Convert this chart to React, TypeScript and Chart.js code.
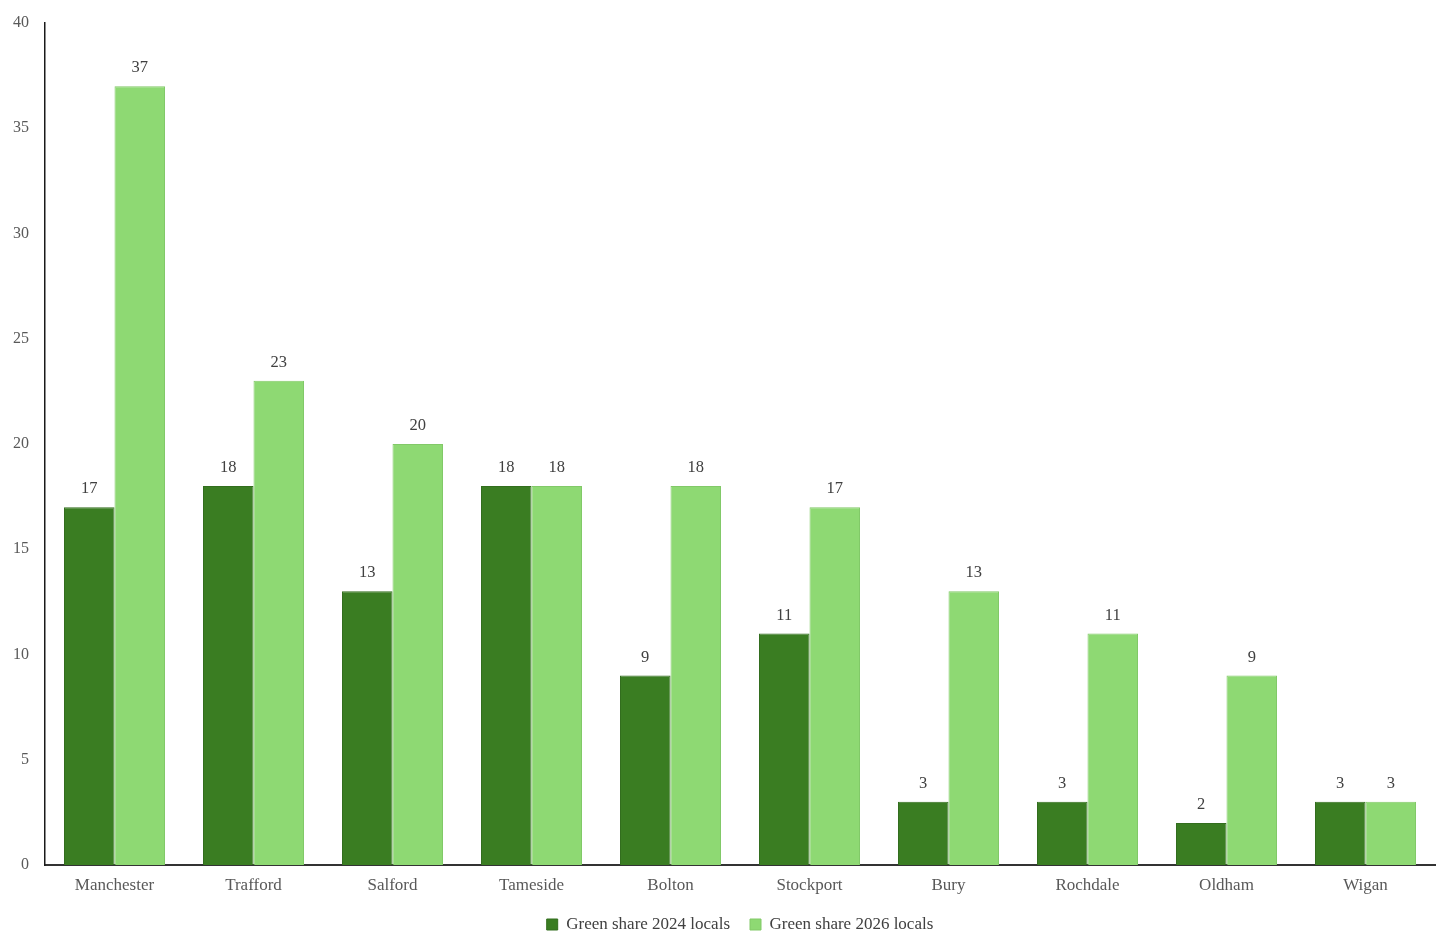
import { useEffect, useRef } from "react";
import { Chart, registerables } from "chart.js";

Chart.register(...registerables);

const councils = [
  "Manchester",
  "Trafford",
  "Salford",
  "Tameside",
  "Bolton",
  "Stockport",
  "Bury",
  "Rochdale",
  "Oldham",
  "Wigan",
];
const share2024 = [17, 18, 13, 18, 9, 11, 3, 3, 2, 3];
const share2026 = [37, 23, 20, 18, 18, 17, 13, 11, 9, 3];

const FONT = "'Liberation Serif', 'DejaVu Serif', serif";

const valueLabels = {
  id: "valueLabels",
  afterDatasetsDraw(chart: Chart) {
    const ctx = chart.ctx;
    ctx.save();
    ctx.font = `16.5px ${FONT}`;
    ctx.fillStyle = "#404040";
    ctx.textAlign = "center";
    ctx.textBaseline = "bottom";
    chart.data.datasets.forEach((ds, i) => {
      chart.getDatasetMeta(i).data.forEach((bar: any, j) => {
        ctx.fillText(String(ds.data[j]), bar.x, bar.y - 10);
      });
    });
    ctx.restore();
  },
};

export default function App() {
  const canvasRef = useRef<HTMLCanvasElement | null>(null);
  const chartRef = useRef<Chart | null>(null);

  useEffect(() => {
    if (!canvasRef.current) return;
    if (chartRef.current) chartRef.current.destroy();
    chartRef.current = new Chart(canvasRef.current, {
      type: "bar",
      data: {
        labels: councils,
        datasets: [
          {
            label: "Green share 2024 locals",
            data: share2024,
            backgroundColor: "#3a7d22",
            borderColor: "#336e1e",
            borderWidth: 1,
          },
          {
            label: "Green share 2026 locals",
            data: share2026,
            backgroundColor: "#8ed973",
            borderColor: "#82c968",
            borderWidth: 1,
          },
        ],
      },
      options: {
        animation: false,
        responsive: true,
        maintainAspectRatio: false,
        layout: { padding: { top: 15, right: 13, bottom: 1, left: 0 } },
        datasets: {
          bar: { categoryPercentage: 0.727, barPercentage: 1 },
        },
        scales: {
          x: {
            afterFit(scale: any) {
              scale.height = 31;
            },
            grid: { display: false, drawTicks: false },
            border: { color: "#333333", width: 2 },
            ticks: {
              color: "#595959",
              font: { family: FONT, size: 17 },
              padding: 10,
            },
          },
          y: {
            min: 0,
            max: 40,
            afterFit(scale: any) {
              scale.width = 37;
              scale.paddingTop = 8;
            },
            grid: { display: false, drawTicks: false },
            border: { color: "#1a1a1a", width: 1.5 },
            ticks: {
              stepSize: 5,
              color: "#595959",
              font: { family: FONT, size: 16 },
              padding: 16,
            },
          },
        },
        plugins: {
          legend: {
            position: "bottom",
            fullSize: false,
            labels: {
              boxWidth: 11,
              boxHeight: 11,
              padding: 20,
              color: "#404040",
              font: { family: FONT, size: 17 },
            },
          },
          tooltip: { enabled: false },
        },
      },
      plugins: [valueLabels],
    });
    return () => {
      if (chartRef.current) {
        chartRef.current.destroy();
        chartRef.current = null;
      }
    };
  }, []);

  return (
    <div style={{ width: "100%", height: "936px", position: "relative" }}>
      <canvas ref={canvasRef}></canvas>
    </div>
  );
}
